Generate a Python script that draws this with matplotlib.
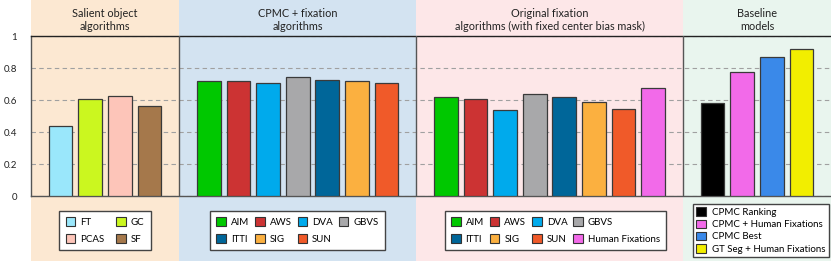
import numpy as np
import matplotlib
matplotlib.use('Agg')
import matplotlib.pyplot as plt
from matplotlib.patches import Rectangle, Patch
from matplotlib.transforms import blended_transform_factory

plt.rcParams['font.family'] = ['Lato', 'DejaVu Sans']

# Datos
salient_labels = ['FT', 'GC', 'PCAS', 'SF']
salient_values = [0.44, 0.605, 0.625, 0.56]

cpmc_labels = ['AIM', 'AWS', 'DVA', 'GBVS', 'ITTI', 'SIG', 'SUN']
cpmc_values = [0.717, 0.72, 0.708, 0.742, 0.727, 0.719, 0.704]

orig_labels = ['AIM', 'AWS', 'DVA', 'GBVS', 'ITTI', 'SIG', 'SUN', 'Human Fixations']
orig_values = [0.621, 0.604, 0.54, 0.636, 0.619, 0.585, 0.544, 0.673]

base_labels = ['CPMC Ranking', 'CPMC + Human Fixations', 'CPMC Best', 'GT Seg + Human Fixations']
base_values = [0.579, 0.773, 0.867, 0.917]

group_titles = ['Salient object\nalgorithms',
                'CPMC + fixation\nalgorithms',
                'Original fixation\nalgorithms (with fixed center bias mask)',
                'Baseline\nmodels']

y_ticks = [0, 0.2, 0.4, 0.6, 0.8, 1]
y_ticklabels = ['0', '0.2', '0.4', '0.6', '0.8', '1']

# Colores
algo_colors = {'FT': '#9ae7fb', 'GC': '#cbf71f', 'PCAS': '#fdc5b9', 'SF': '#a5784b',
               'AIM': '#00c800', 'AWS': '#cc3333', 'DVA': '#00aaec', 'GBVS': '#a8a8aa',
               'ITTI': '#006699', 'SIG': '#fbb040', 'SUN': '#f05a29',
               'Human Fixations': '#f26ae9',
               'CPMC Ranking': '#000000', 'CPMC + Human Fixations': '#f26ae9',
               'CPMC Best': '#3a89e9', 'GT Seg + Human Fixations': '#f2ee00'}
band_colors = ['#fce8d2', '#d3e3f1', '#fde7e8', '#e9f5ee']

groups = [(salient_labels, salient_values),
          (cpmc_labels, cpmc_values),
          (orig_labels, orig_values),
          (base_labels, base_values)]

fig = plt.figure(figsize=(8.31, 2.61), dpi=100)
ax = fig.add_axes([31 / 831, 65 / 261, 800 / 831, 160 / 261])
ax.patch.set_visible(False)

trans = blended_transform_factory(ax.transData, fig.transFigure)

start = 0
legend_ncol = [2, 4, 4, 1]
legend_x = [105, 297.5, 555.5, 761]
dividers = []
for i, (labels, values) in enumerate(groups):
    n = len(labels)
    width_slots = n + 1
    pos = start + 1 + np.arange(n)
    cols = [algo_colors[l] for l in labels]
    ax.bar(pos, values, width=0.8, color=cols, edgecolor='#3a3a3a', linewidth=0.9, zorder=3)

    # fondo de color de cada grupo
    fig.add_artist(Rectangle((start, 0), width_slots, 1, transform=trans,
                             facecolor=band_colors[i], edgecolor='none', zorder=-5))
    xc = start + width_slots / 2
    ax.text(xc, 1 - 20 / 261, group_titles[i], transform=trans, clip_on=False,
            ha='center', va='center', fontsize=7.8, color='#222222', linespacing=1.2)

    # leyenda
    handles = [Patch(facecolor=algo_colors[l], edgecolor='#333333', linewidth=0.8) for l in labels]
    ncol = legend_ncol[i]
    if i == 3:
        leg = fig.legend(handles, labels, loc='center', ncol=1,
                         bbox_to_anchor=(legend_x[i] / 831, 1 - 230.5 / 261),
                         fontsize=7, handlelength=1.0, handleheight=1.0, handletextpad=0.6,
                         labelspacing=0.25, borderpad=0.35, fancybox=False, framealpha=1)
    else:
        # orden por filas
        nrow = int(np.ceil(n / ncol))
        order = []
        for c in range(ncol):
            for r in range(nrow):
                k = r * ncol + c
                if k < n:
                    order.append(k)
        leg = fig.legend([handles[k] for k in order], [labels[k] for k in order],
                         loc='center', ncol=ncol,
                         bbox_to_anchor=(legend_x[i] / 831, 1 - 230.5 / 261),
                         fontsize=7, handlelength=1.0, handleheight=1.0, handletextpad=0.5,
                         labelspacing=0.75, columnspacing=0.6 if i > 0 else 1.2,
                         borderpad=0.65, fancybox=False, framealpha=1)
    leg.get_frame().set_edgecolor('#444444')
    leg.get_frame().set_linewidth(1.0)

    start += width_slots
    dividers.append(start)

for d in dividers[:-1]:
    ax.axvline(d, color='#555555', linewidth=1.0, zorder=4)

ax.set_xlim(0, start)
ax.set_ylim(0, 1)
ax.set_yticks(y_ticks)
ax.set_yticklabels(y_ticklabels)
ax.set_xticks([])
ax.tick_params(axis='y', length=0, pad=10, labelsize=7)
for t in ax.get_yticklabels():
    t.set_color('#222222')
ax.yaxis.grid(True, linestyle=(0, (4, 3)), color='#a0a0a0', linewidth=0.8, zorder=0)
ax.set_axisbelow(True)
ax.spines['right'].set_visible(False)
ax.spines['top'].set_color('#222222')
ax.spines['left'].set_color('#555555')
ax.spines['bottom'].set_color('#555555')
for s in ['top', 'left', 'bottom']:
    ax.spines[s].set_linewidth(1.0)

fig.savefig('out.png', dpi=100)
